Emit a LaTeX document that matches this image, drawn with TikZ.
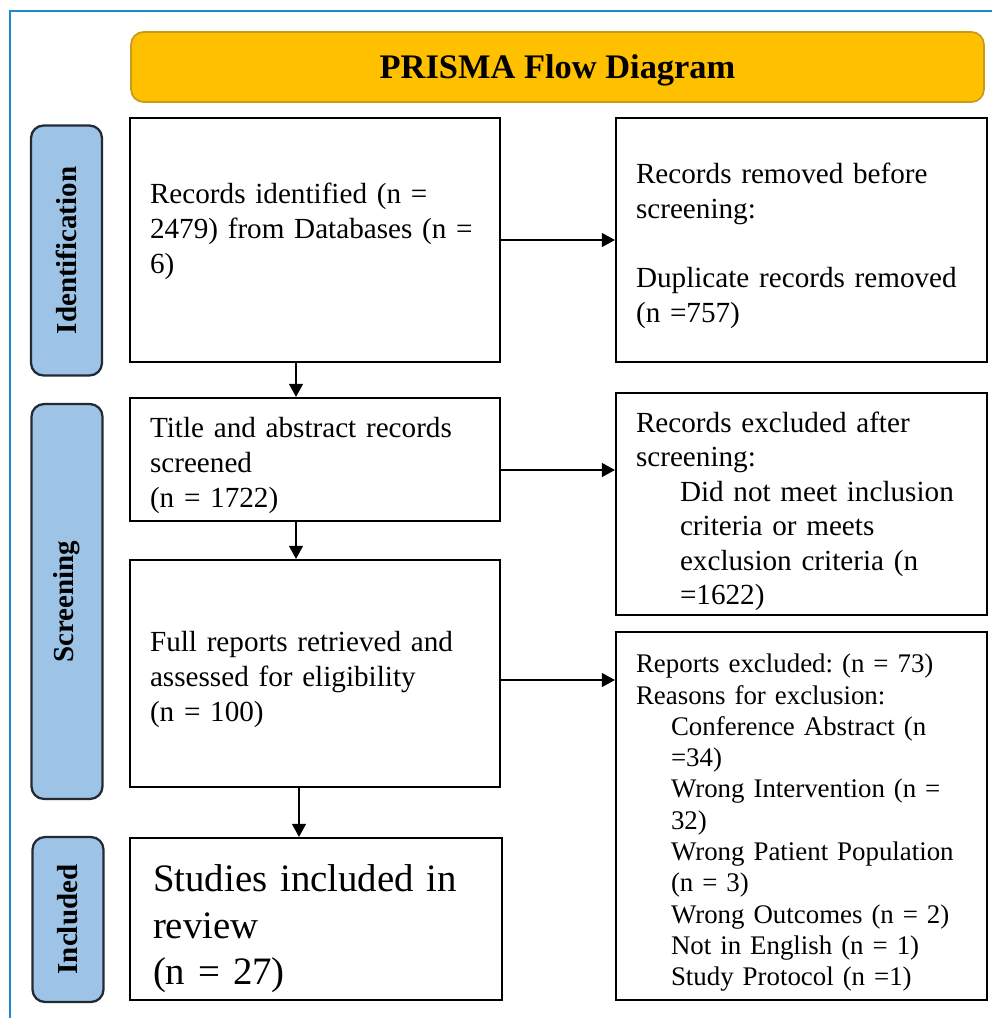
\documentclass[tikz,border=0pt]{standalone}
\usepackage{fontspec}
\setmainfont{Liberation Serif}
\usepackage{tikz}
\usetikzlibrary{arrows.meta,positioning}

\definecolor{prismagold}{RGB}{255,192,0}
\definecolor{prismaedge}{RGB}{200,155,25}
\definecolor{phaseblue}{RGB}{157,195,230}
\definecolor{phaseedge}{RGB}{35,42,52}
\definecolor{frameblue}{RGB}{30,136,200}

\begin{document}
\begin{tikzpicture}[x=0.02cm,y=-0.02cm,
    box/.style={draw,line width=1.3pt,align=left,inner xsep=0.4cm,inner ysep=0pt,font=\fontsize{16.6}{19.8}\selectfont\frenchspacing,textdrop=18.3pt},
    textdrop/.style={execute at begin node={\rule{0pt}{#1}}},
    phase/.style={draw=phaseedge,fill=phaseblue,line width=1.3pt,rounded corners=0.25cm,rotate=90,minimum height=1.42cm,font=\fontsize{16.5}{19}\selectfont\bfseries},
    heading/.style={draw=prismaedge,fill=prismagold,line width=1pt,rounded corners=0.25cm,minimum width=17.06cm,minimum height=1.4cm,text depth=0pt,font=\fontsize{19.6}{22}\selectfont\bfseries},
    arrow/.style={-{Triangle[length=0.26cm,width=0.28cm]},line width=0.6pt}]
    \useasboundingbox (0,0) rectangle (992,1018);

    % Frame and heading
    \draw[frameblue,line width=1.2pt] (10,1018) -- (10,11) -- (992,11);
    \node[heading] (head) at (557.5,67) {PRISMA Flow Diagram};

    % Phase labels
    \node[phase,minimum width=5cm] (phaseid) at (66.5,250.5) {Identification};
    \node[phase,minimum width=7.9cm] (phasescr) at (67,601.5) {Screening};
    \node[phase,minimum width=3.3cm] (phaseinc) at (68,919.5) {Included};

    % Left column
    \node[box,text width=6.6cm,minimum height=4.88cm] (ident) at (315,240)
        {Records identified (n =\\2479) from Databases (n =\\6)\\\mbox{}};
    \node[box,text width=6.6cm,minimum height=2.46cm] (screened) at (315,459.5)
        {Title and abstract records\\screened\\(n = 1722)};
    \node[box,text width=6.6cm,minimum height=4.54cm] (full) at (315,673.5)
        {Full reports retrieved and\\assessed for eligibility\\(n = 100)};
    \node[box,text width=6.52cm,inner xsep=0.46cm,minimum height=3.24cm,font=\fontsize{22.1}{26.5}\selectfont,textdrop=26.6pt] (incl) at (316,919)
        {Studies included in\\review\\(n = 27)};

    % Right column
    \node[box,text width=6.62cm,minimum height=4.88cm] (removed) at (801.5,240)
        {Records removed before\\screening:\\[19.8pt]Duplicate records removed\\(n =757)};
    \node[box,text width=6.62cm,minimum height=4.44cm,font=\fontsize{16.6}{19.6}\selectfont\frenchspacing,textdrop=20pt] (excluded) at (801.5,504)
        {Records excluded after\\screening:\\
         \hspace*{0.88cm}Did not meet inclusion\\
         \hspace*{0.88cm}criteria or meets\\
         \hspace*{0.88cm}exclusion criteria (n\\
         \hspace*{0.88cm}=1622)};
    \node[box,text width=6.62cm,minimum height=7.36cm,font=\fontsize{15.3}{17.8}\selectfont\frenchspacing,textdrop=0pt] (reports) at (801.5,816)
        {Reports excluded: (n = 73)\\Reasons for exclusion:\\
         \hspace*{0.7cm}Conference Abstract (n\\
         \hspace*{0.7cm}=34)\\
         \hspace*{0.7cm}Wrong Intervention (n =\\
         \hspace*{0.7cm}32)\\
         \hspace*{0.7cm}Wrong Patient Population\\
         \hspace*{0.7cm}(n = 3)\\
         \hspace*{0.7cm}Wrong Outcomes (n = 2)\\
         \hspace*{0.7cm}Not in English (n = 1)\\
         \hspace*{0.7cm}Study Protocol (n =1)};

    % Connect boxes
    \draw[arrow] (ident.east) -- (removed.west);
    \draw[arrow] ([yshift=-0.21cm]screened.east) coordinate (s1) -- (s1 -| excluded.west);
    \draw[arrow] ([yshift=-0.13cm]full.east) coordinate (s2) -- (s2 -| reports.west);
    \draw[arrow] ([xshift=-0.38cm]ident.south) coordinate (d1) -- (d1 |- screened.north);
    \draw[arrow] ([xshift=-0.38cm]screened.south) coordinate (d2) -- (d2 |- full.north);
    \draw[arrow] ([xshift=-0.32cm]full.south) coordinate (d3) -- (d3 |- incl.north);
\end{tikzpicture}
\end{document}
